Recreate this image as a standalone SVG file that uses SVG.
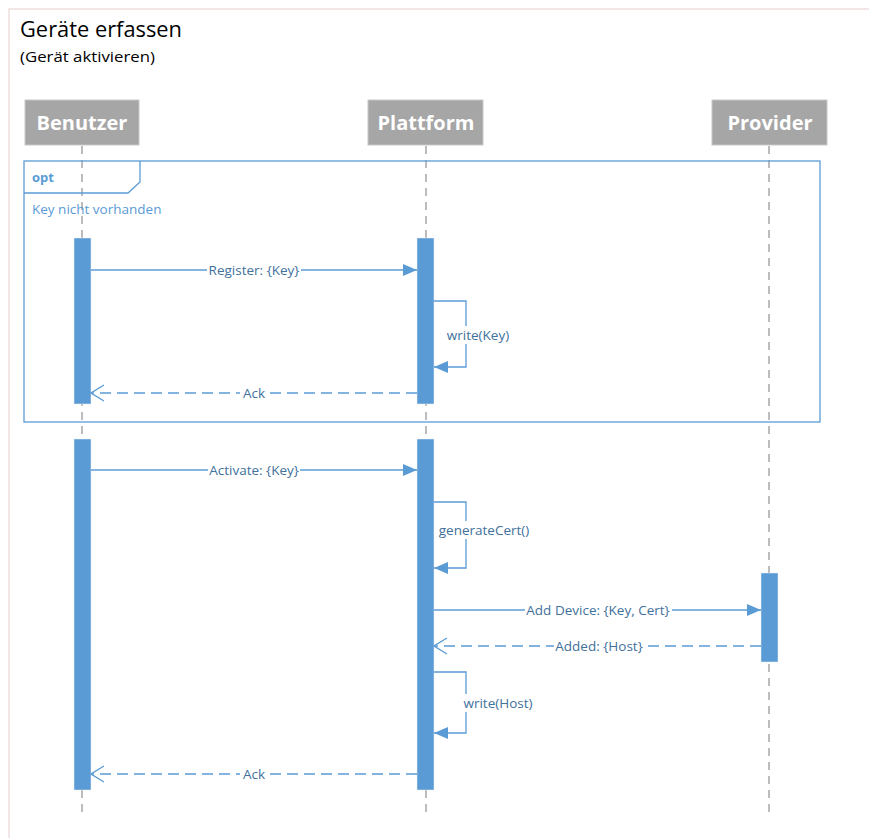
<svg xmlns="http://www.w3.org/2000/svg" width="869" height="838" viewBox="0 0 869 838">
<defs>
<style>
.t{font-family:"Open Sans","Noto Sans",sans-serif;fill:#000}
.head rect{fill:#a6a6a6;stroke:#c8c8c8;stroke-width:1}
.head text{font-family:"Open Sans","Noto Sans",sans-serif;font-weight:bold;font-size:20px;fill:#fff;text-anchor:middle}
.life{stroke:#a6a6a6;stroke-width:1.5;stroke-dasharray:8 6;fill:none}
.bar{fill:#5b9bd5;stroke:#e8eef6;stroke-width:0.5}
.msg{stroke:#5b9bd5;stroke-width:1.3;fill:none}
.ret{stroke:#5b9bd5;stroke-width:1.3;fill:none;stroke-dasharray:11 6}
.lbl{font-family:"Open Sans","Noto Sans",sans-serif;font-size:13.5px;fill:#41719c;text-anchor:middle}
.bg{fill:#fff}
</style>
<marker id="fill" viewBox="0 0 14 14" refX="14" refY="7" markerWidth="14" markerHeight="14" markerUnits="userSpaceOnUse" orient="auto">
<path d="M0,1 L14,7 L0,13 Z" fill="#5b9bd5"/>
</marker>
<marker id="open" viewBox="0 0 16 18" refX="15" refY="9" markerWidth="16" markerHeight="18" markerUnits="userSpaceOnUse" orient="auto">
<path d="M2,1 L15,9 L2,17" fill="none" stroke="#5b9bd5" stroke-width="1.3"/>
</marker>
</defs>
<rect x="0" y="0" width="869" height="838" fill="#fff"/>
<rect x="9" y="9" width="870" height="840" fill="none" stroke="#f0dede" stroke-width="1.5"/>
<text class="t" x="20" y="37" font-size="21" textLength="162" lengthAdjust="spacingAndGlyphs">Geräte erfassen</text>
<text class="t" x="20" y="62" font-size="15" textLength="135" lengthAdjust="spacingAndGlyphs">(Gerät aktivieren)</text>

<g id="lifelines">
<line class="life" x1="82" y1="146" x2="82" y2="812"/>
<line class="life" x1="426" y1="146" x2="426" y2="812"/>
<line class="life" x1="769" y1="146" x2="769" y2="812"/>
</g>

<g id="opt-frame">
<rect x="24" y="161" width="796" height="261" fill="none" stroke="#5b9bd5" stroke-width="1.3"/>
<path d="M24,193 L128,193 L140,182 L140,161" fill="none" stroke="#5b9bd5" stroke-width="1.3"/>
<text x="32" y="182" font-family="'Open Sans','Noto Sans',sans-serif" font-weight="bold" font-size="13" fill="#5b9bd5">opt</text>
<text x="32" y="214" font-family="'Open Sans','Noto Sans',sans-serif" font-size="13.5" fill="#5b9bd5">Key nicht vorhanden</text>
</g>

<g id="benutzer" class="head"><rect x="25" y="100" width="114" height="45"/><text x="82" y="130">Benutzer</text></g>
<g id="plattform" class="head"><rect x="368" y="100" width="115" height="45"/><text x="426" y="130">Plattform</text></g>
<g id="provider" class="head"><rect x="712" y="100" width="115" height="45"/><text x="770" y="130">Provider</text></g>

<g id="activations">
<rect class="bar" x="74" y="238" width="17" height="166"/>
<rect class="bar" x="417" y="238" width="17" height="166"/>
<rect class="bar" x="74" y="439" width="17" height="351"/>
<rect class="bar" x="417" y="439" width="17" height="351"/>
<rect class="bar" x="761" y="573" width="17" height="89"/>
</g>

<g id="connectors">
<line class="msg" x1="91" y1="270" x2="417" y2="270" marker-end="url(#fill)"/>
<rect class="bg" x="207" y="262" width="94" height="16"/>
<text class="lbl" x="254" y="275">Register: {Key}</text>

<path class="msg" d="M434,301 H466 V367 H434" marker-end="url(#fill)"/>
<rect class="bg" x="446" y="326" width="64" height="18"/>
<text class="lbl" x="478" y="340">write(Key)</text>

<line class="ret" x1="417" y1="393" x2="91" y2="393" marker-end="url(#open)"/>
<rect class="bg" x="240" y="385" width="29" height="16"/>
<text class="lbl" x="254" y="398">Ack</text>

<line class="msg" x1="91" y1="470" x2="417" y2="470" marker-end="url(#fill)"/>
<rect class="bg" x="208" y="462" width="92" height="16"/>
<text class="lbl" x="254" y="475">Activate: {Key}</text>

<path class="msg" d="M434,502 H466 V568 H434" marker-end="url(#fill)"/>
<rect class="bg" x="438" y="521" width="93" height="18"/>
<text class="lbl" x="484" y="535">generateCert()</text>

<line class="msg" x1="434" y1="610" x2="761" y2="610" marker-end="url(#fill)"/>
<rect class="bg" x="525" y="602" width="147" height="16"/>
<text class="lbl" x="598" y="615">Add Device: {Key, Cert}</text>

<line class="ret" x1="761" y1="646" x2="434" y2="646" marker-end="url(#open)"/>
<rect class="bg" x="554" y="638" width="90" height="16"/>
<text class="lbl" x="599" y="651">Added: {Host}</text>

<path class="msg" d="M434,672 H466 V733 H434" marker-end="url(#fill)"/>
<rect class="bg" x="463" y="694" width="71" height="18"/>
<text class="lbl" x="498" y="708">write(Host)</text>

<line class="ret" x1="417" y1="774" x2="91" y2="774" marker-end="url(#open)"/>
<rect class="bg" x="240" y="766" width="29" height="16"/>
<text class="lbl" x="254" y="779">Ack</text>
</g>
</svg>
